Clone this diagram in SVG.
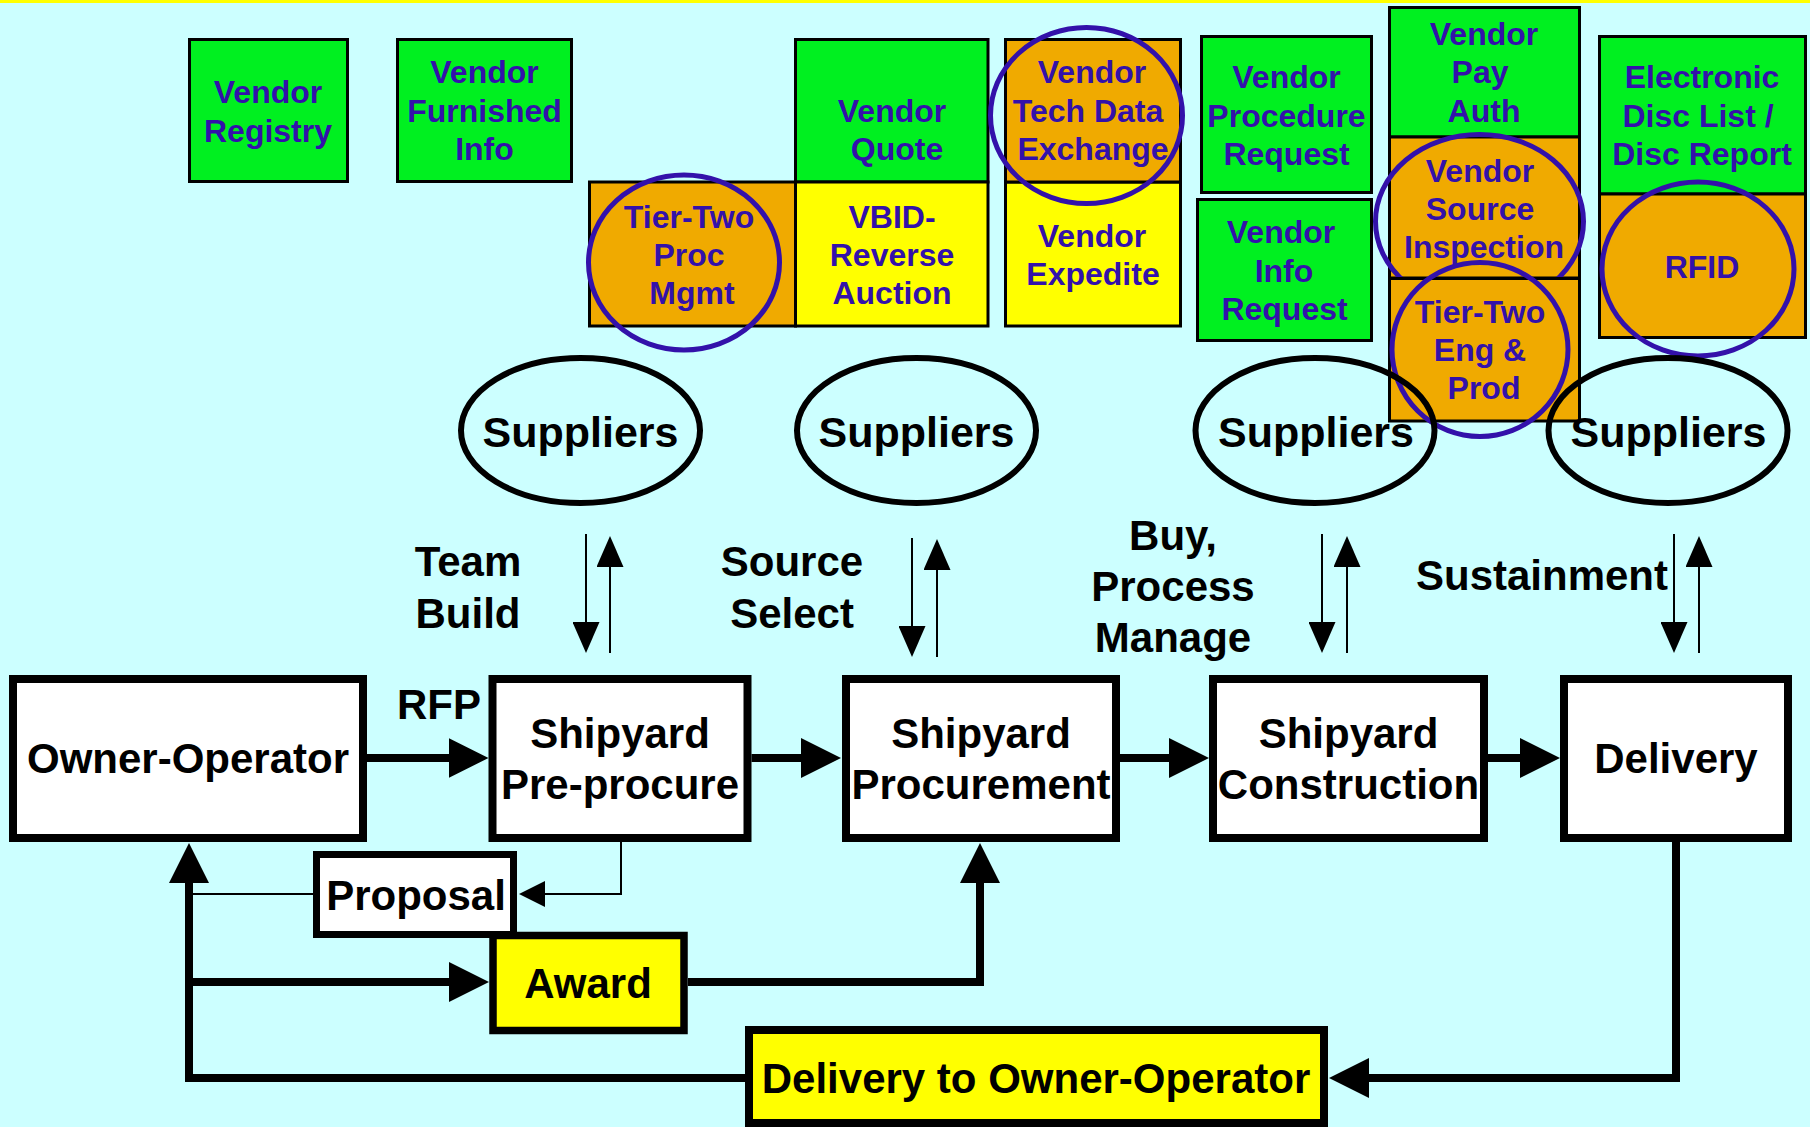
<svg xmlns="http://www.w3.org/2000/svg" width="1810" height="1127" viewBox="0 0 1810 1127">
  <style>
    .tb { stroke: #000; stroke-width: 3; }
    .g { fill: #00F020; }
    .o { fill: #F0AA00; }
    .y { fill: #FFFF00; }
    .bt { font-family: "Liberation Sans", Arial, sans-serif; font-weight: bold; font-size: 32px; fill: #3311AA; text-anchor: middle; }
    .ring { fill: none; stroke: #3311AA; stroke-width: 5; }
    .sup { fill: none; stroke: #000; stroke-width: 6; }
    .lbl { font-family: "Liberation Sans", Arial, sans-serif; font-weight: bold; font-size: 42px; fill: #000; text-anchor: middle; }
    .st { font-family: "Liberation Sans", Arial, sans-serif; font-weight: bold; font-size: 43px; fill: #000; text-anchor: middle; }
    .mb { fill: #FFFFFF; stroke: #000; stroke-width: 8; }
    .yb { fill: #FFFF00; stroke: #000; stroke-width: 8; }
    .thick { fill: none; stroke: #000; stroke-width: 8; }
    .thin { fill: none; stroke: #000; stroke-width: 2; }
  </style>
  <defs>
    <marker id="bigHead" markerUnits="userSpaceOnUse" markerWidth="40" markerHeight="40" refX="20" refY="20" orient="auto">
      <path d="M0,0 L40,20 L0,40 Z" fill="#000"/>
    </marker>
    <marker id="midHead" markerUnits="userSpaceOnUse" markerWidth="31" markerHeight="27" refX="21" refY="13.5" orient="auto">
      <path d="M0,0 L31,13.5 L0,27 Z" fill="#000"/>
    </marker>
    <marker id="smallHead" markerUnits="userSpaceOnUse" markerWidth="26" markerHeight="26" refX="16" refY="13" orient="auto">
      <path d="M0,0 L26,13 L0,26 Z" fill="#000"/>
    </marker>
  </defs>

  <!-- background -->
  <rect x="0" y="0" width="1810" height="1127" fill="#CCFFFF"/>
  <rect x="0" y="0" width="1810" height="3" fill="#FFFF00"/>

  <!-- vendor service blocks -->
  <g id="vendor-registry">
    <rect class="tb g" x="189.5" y="39.5" width="158" height="142"/>
    <text class="bt" x="268" y="103">Vendor</text>
    <text class="bt" x="268" y="142">Registry</text>
  </g>
  <g id="vendor-furnished-info">
    <rect class="tb g" x="397.5" y="39.5" width="174" height="142"/>
    <text class="bt" x="484.5" y="83">Vendor</text>
    <text class="bt" x="484.5" y="122">Furnished</text>
    <text class="bt" x="484.5" y="160">Info</text>
  </g>
  <g id="tier-two-proc-mgmt">
    <rect class="tb o" x="589.5" y="182" width="206" height="144"/>
    <text class="bt" x="689" y="228">Tier-Two</text>
    <text class="bt" x="689" y="266">Proc</text>
    <text class="bt" x="692" y="304">Mgmt</text>
    <ellipse class="ring" cx="684" cy="262.5" rx="95.5" ry="87.5"/>
  </g>
  <g id="vendor-quote">
    <rect class="tb g" x="795.5" y="39.5" width="192.5" height="142.5"/>
    <text class="bt" x="892" y="122">Vendor</text>
    <text class="bt" x="897" y="160">Quote</text>
  </g>
  <g id="vbid-reverse-auction">
    <rect class="tb y" x="795.5" y="182" width="192.5" height="144"/>
    <text class="bt" x="892" y="228">VBID-</text>
    <text class="bt" x="892" y="266">Reverse</text>
    <text class="bt" x="892" y="304">Auction</text>
  </g>
  <g id="vendor-expedite">
    <rect class="tb y" x="1005.5" y="182" width="175" height="144"/>
    <text class="bt" x="1092" y="247">Vendor</text>
    <text class="bt" x="1093" y="285">Expedite</text>
  </g>
  <g id="vendor-tech-data-exchange">
    <rect class="tb o" x="1005.5" y="39.5" width="175" height="142.5"/>
    <text class="bt" x="1092" y="83">Vendor</text>
    <text class="bt" x="1088" y="122">Tech Data</text>
    <text class="bt" x="1093" y="160">Exchange</text>
    <ellipse class="ring" cx="1086.5" cy="115.5" rx="96" ry="88"/>
  </g>
  <g id="vendor-procedure-request">
    <rect class="tb g" x="1201.5" y="36.5" width="170" height="156"/>
    <text class="bt" x="1286.5" y="88">Vendor</text>
    <text class="bt" x="1286.5" y="127">Procedure</text>
    <text class="bt" x="1286.5" y="165">Request</text>
  </g>
  <g id="vendor-info-request">
    <rect class="tb g" x="1197.5" y="199.5" width="174" height="141"/>
    <text class="bt" x="1281" y="243">Vendor</text>
    <text class="bt" x="1284" y="282">Info</text>
    <text class="bt" x="1284.5" y="320">Request</text>
  </g>
  <g id="vendor-pay-auth">
    <rect class="tb g" x="1389.5" y="7.5" width="190" height="129.5"/>
    <text class="bt" x="1484" y="45">Vendor</text>
    <text class="bt" x="1480" y="83">Pay</text>
    <text class="bt" x="1484" y="122">Auth</text>
  </g>
  <g id="vendor-source-inspection">
    <rect class="tb o" x="1389.5" y="137" width="190" height="141"/>
    <text class="bt" x="1480" y="182">Vendor</text>
    <text class="bt" x="1480" y="220">Source</text>
    <text class="bt" x="1484" y="258">Inspection</text>
    <ellipse class="ring" cx="1479.5" cy="221.5" rx="104" ry="87"/>
  </g>
  <g id="tier-two-eng-prod">
    <rect class="tb o" x="1389.5" y="278.5" width="190" height="142.5"/>
    <text class="bt" x="1480" y="323">Tier-Two</text>
    <text class="bt" x="1480" y="361">Eng &amp;</text>
    <text class="bt" x="1484" y="399">Prod</text>
    <ellipse class="ring" cx="1480" cy="349.5" rx="88" ry="87"/>
  </g>
  <g id="electronic-disc-list">
    <rect class="tb g" x="1599.5" y="36.5" width="206" height="157.5"/>
    <text class="bt" x="1702" y="88">Electronic</text>
    <text class="bt" x="1698" y="127">Disc List /</text>
    <text class="bt" x="1702" y="165">Disc Report</text>
  </g>
  <g id="rfid">
    <rect class="tb o" x="1599.5" y="194" width="206" height="143.5"/>
    <text class="bt" x="1702" y="278">RFID</text>
    <ellipse class="ring" cx="1698" cy="269" rx="96" ry="87"/>
  </g>

  <!-- supplier pools -->
  <g id="suppliers-1">
    <ellipse class="sup" cx="580.5" cy="430.5" rx="119.5" ry="72.5"/>
    <text class="st" x="580.5" y="447">Suppliers</text>
  </g>
  <g id="suppliers-2">
    <ellipse class="sup" cx="916.5" cy="430.5" rx="119.5" ry="72.5"/>
    <text class="st" x="916.5" y="447">Suppliers</text>
  </g>
  <g id="suppliers-3">
    <ellipse class="sup" cx="1315" cy="430.5" rx="119.5" ry="72.5"/>
    <text class="st" x="1316" y="447">Suppliers</text>
  </g>
  <g id="suppliers-4">
    <ellipse class="sup" cx="1668" cy="430.5" rx="119.5" ry="72.5"/>
    <text class="st" x="1668.5" y="447">Suppliers</text>
  </g>

  <!-- phase labels -->
  <g id="phase-labels">
    <text class="lbl" x="468" y="576">Team</text>
    <text class="lbl" x="468" y="628">Build</text>
    <text class="lbl" x="792" y="576">Source</text>
    <text class="lbl" x="792" y="628">Select</text>
    <text class="lbl" x="1173" y="550">Buy,</text>
    <text class="lbl" x="1173" y="601">Process</text>
    <text class="lbl" x="1173" y="652">Manage</text>
    <text class="lbl" x="1542" y="590">Sustainment</text>
    <text class="lbl" x="439" y="719">RFP</text>
  </g>

  <!-- process chain -->
  <g id="owner-operator">
    <rect class="mb" x="13" y="679" width="350" height="159"/>
    <text class="lbl" x="188" y="773">Owner-Operator</text>
  </g>
  <g id="shipyard-pre-procure">
    <rect class="mb" x="492.5" y="679" width="255" height="159"/>
    <text class="lbl" x="620" y="748">Shipyard</text>
    <text class="lbl" x="620" y="799">Pre-procure</text>
  </g>
  <g id="shipyard-procurement">
    <rect class="mb" x="846" y="679" width="270" height="159"/>
    <text class="lbl" x="981" y="748">Shipyard</text>
    <text class="lbl" x="981" y="799">Procurement</text>
  </g>
  <g id="shipyard-construction">
    <rect class="mb" x="1213" y="679" width="271" height="159"/>
    <text class="lbl" x="1348.5" y="748">Shipyard</text>
    <text class="lbl" x="1348.5" y="799">Construction</text>
  </g>
  <g id="delivery">
    <rect class="mb" x="1564" y="679" width="224" height="159"/>
    <text class="lbl" x="1676" y="773">Delivery</text>
  </g>
  <g id="proposal">
    <rect class="mb" x="316.5" y="854.5" width="197" height="80" style="stroke-width:7"/>
    <text class="lbl" x="416" y="910">Proposal</text>
  </g>
  <g id="award">
    <rect class="yb" x="493" y="935.5" width="191" height="95" style="stroke-width:7.5"/>
    <text class="lbl" x="588" y="998">Award</text>
  </g>
  <g id="delivery-to-owner-operator">
    <rect class="yb" x="749" y="1030" width="575" height="93"/>
    <text class="lbl" x="1036" y="1093">Delivery to Owner-Operator</text>
  </g>

  <!-- connectors -->
  <g id="connectors">
    <!-- supplier exchanges -->
    <path class="thin" d="M586,534 V643" marker-end="url(#midHead)"/>
    <path class="thin" d="M610,653 V546" marker-end="url(#midHead)"/>
    <path class="thin" d="M912,538 V647" marker-end="url(#midHead)"/>
    <path class="thin" d="M937,657 V549" marker-end="url(#midHead)"/>
    <path class="thin" d="M1322,534 V643" marker-end="url(#midHead)"/>
    <path class="thin" d="M1347,653 V546" marker-end="url(#midHead)"/>
    <path class="thin" d="M1674,534 V643" marker-end="url(#midHead)"/>
    <path class="thin" d="M1699,653 V546" marker-end="url(#midHead)"/>

    <!-- main flow -->
    <path class="thick" d="M367,758 H468.5" marker-end="url(#bigHead)"/>
    <path class="thick" d="M751.5,758 H821" marker-end="url(#bigHead)"/>
    <path class="thick" d="M1120,758 H1189" marker-end="url(#bigHead)"/>
    <path class="thick" d="M1488,758 H1540" marker-end="url(#bigHead)"/>

    <!-- proposal / award loop -->
    <path class="thin" d="M621,842 V894 H529" marker-end="url(#smallHead)"/>
    <path class="thin" d="M313,894 H189"/>
    <path class="thick" d="M745,1078 H189 V863" marker-end="url(#bigHead)"/>
    <path class="thick" d="M189,982 H469" marker-end="url(#bigHead)"/>
    <path class="thick" d="M688,982 H980 V863" marker-end="url(#bigHead)"/>
    <path class="thick" d="M1676,842 V1078 H1349" marker-end="url(#bigHead)"/>
  </g>
</svg>
